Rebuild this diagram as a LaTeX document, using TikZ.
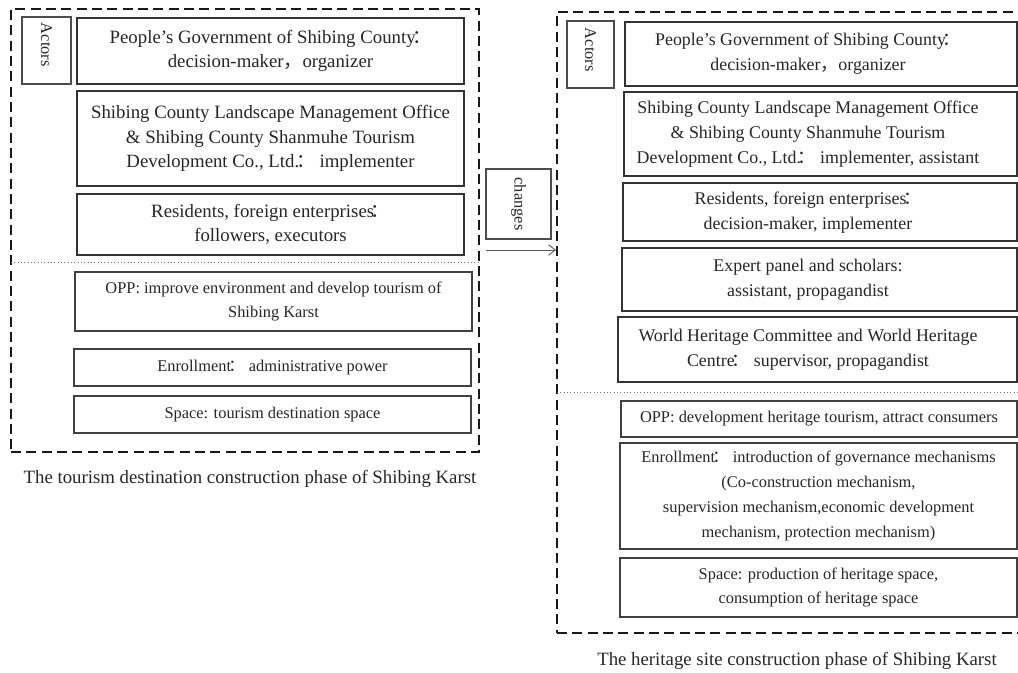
\documentclass[tikz,border=0pt]{standalone}
\usepackage{fontspec}
\setmainfont{Liberation Serif}
\newfontfamily\cjkfont{Noto Sans CJK SC}
\newcommand\fwcolon{\kern-0.17em{\cjkfont ：}}
\newcommand\fwcomma{{\cjkfont ，}}
\usetikzlibrary{fit,arrows.meta,calc}
\begin{document}
\begin{tikzpicture}[x=0.75pt,y=-0.75pt,
  panel/.style={draw=black!90, line width=1.6pt, dash pattern=on 7.5pt off 4pt, inner sep=0pt},
  topbox/.style={draw=black!80, line width=1.1pt, inner sep=0pt, align=center, text=black!85,
    font=\fontsize{14.1}{18.3}\selectfont},
  rtopbox/.style={draw=black!80, line width=1.1pt, inner sep=0pt},
  rtoptext/.style={align=center, inner sep=0pt, text=black!85, font=\fontsize{13.4}{18.6}\selectfont},
  lowbox/.style={draw=black!75, line width=0.8pt, inner sep=0pt, align=center, text=black!85,
    font=\fontsize{12.3}{18.6}\selectfont},
  tagbox/.style={draw=black!70, line width=0.8pt, rotate=-90, text=black!85,
    font=\fontsize{12.3}{14}\selectfont},
  caption/.style={text=black!85, inner sep=0pt, font=\fontsize{14.1}{17}\selectfont},
  sepline/.style={draw=black!55, line width=0.5pt, dotted},
  changearrow/.style={draw=black!65, line width=0.7pt, -{Straight Barb[length=5pt,width=8pt]}},
]
\useasboundingbox (0,0) rectangle (1018,673);
\clip (0,0) rectangle (1018,673);

% ---------------- left panel ----------------
\node[panel, fit={(11,9) (479,452)}] (leftPanel) {};
\node[tagbox, minimum width=50.25pt, minimum height=36.75pt, inner xsep=4.5pt, inner ysep=0pt,
  text width=41.25pt, align=flush left] (actorsL) at (46.5,50.5) {Actors};
\node[topbox, minimum width=290.25pt, minimum height=49.5pt] (govL) at (270.5,51)
  {People's Government of Shibing County\fwcolon\\decision-maker\fwcomma organizer};
\node[topbox, minimum width=290.25pt, minimum height=71.25pt] (officeL) at (270.5,138.5)
  {Shibing County Landscape Management Office\\\& Shibing County Shanmuhe Tourism\\Development Co., Ltd.\fwcolon{} implementer};
\node[topbox, minimum width=290.25pt, minimum height=45.75pt] (residentsL) at (270.5,224.5)
  {Residents, foreign enterprises\fwcolon\\followers, executors};
\coordinate (sepL) at (11,262);
\draw[sepline] (sepL) -- (sepL -| leftPanel.east);
\node[lowbox, minimum width=297.75pt, minimum height=44.25pt] (oppL) at (273.5,301.5)
  {OPP: improve environment and develop tourism of\\Shibing Karst};
\node[lowbox, minimum width=297.75pt, minimum height=27.75pt] (enrL) at (272.5,367.5)
  {Enrollment\fwcolon{} administrative power};
\node[lowbox, minimum width=297.75pt, minimum height=27.75pt] (spaceL) at (272.5,414.5)
  {Space: tourism destination space};
\node[caption] (capL) at (250,479) {The tourism destination construction phase of Shibing Karst};

% ---------------- middle ----------------
\node[tagbox, minimum width=52.5pt, minimum height=48.75pt, inner sep=0pt, align=center]
  (changes) at (518.5,204) {changes};

% ---------------- right panel ----------------
\node[panel, fit={(557,12) (1034,633)}] (rightPanel) {};
\coordinate (arrowStart) at (486,250);
\draw[changearrow] (arrowStart) -- (arrowStart -| rightPanel.west);

\node[tagbox, minimum width=50.25pt, minimum height=35.25pt, inner xsep=5.25pt, inner ysep=0pt,
  text width=39.75pt, align=flush left] (actorsR) at (590.5,54.5) {Actors};

\node[rtopbox, minimum width=294pt, minimum height=48pt] (govR) at (821,54) {};
\node[rtoptext] (govRt) at (808,54)
  {People's Government of Shibing County\fwcolon\\decision-maker\fwcomma organizer};
\node[rtopbox, minimum width=294.75pt, minimum height=63pt] (officeR) at (820.5,134) {};
\node[rtoptext] (officeRt) at (808,134)
  {Shibing County Landscape Management Office\\\& Shibing County Shanmuhe Tourism\\Development Co., Ltd.\fwcolon{} implementer, assistant};
\node[rtopbox, minimum width=295.5pt, minimum height=43.5pt] (residentsR) at (820,212) {};
\node[rtoptext] (residentsRt) at (808,213)
  {Residents, foreign enterprises\fwcolon\\decision-maker, implementer};
\node[rtopbox, minimum width=296.25pt, minimum height=47.25pt] (expertR) at (819.5,279.5) {};
\node[rtoptext] (expertRt) at (808,280)
  {Expert panel and scholars:\\assistant, propagandist};
\node[rtopbox, minimum width=299.25pt, minimum height=48.75pt] (whcR) at (817.5,349.5) {};
\node[rtoptext] (whcRt) at (808,350)
  {World Heritage Committee and World Heritage\\Centre\fwcolon{} supervisor, propagandist};

\coordinate (sepR) at (557,392);
\draw[sepline] (sepR) -- (sepR -| rightPanel.east);

\node[lowbox, minimum width=297pt, minimum height=27pt] (oppR) at (819,419)
  {OPP: development heritage tourism, attract consumers};
\node[lowbox, minimum width=297.75pt, minimum height=79.5pt] (enrR) at (818.5,496)
  {Enrollment\fwcolon{} introduction of governance mechanisms\\(Co-construction mechanism,\\supervision mechanism,economic development\\mechanism, protection mechanism)};
\node[lowbox, minimum width=297.75pt, minimum height=44.25pt] (spaceR) at (818.5,587.5)
  {Space: production of heritage space,\\consumption of heritage space};
\node[caption] (capR) at (797,661) {The heritage site construction phase of Shibing Karst};
\end{tikzpicture}
\end{document}
